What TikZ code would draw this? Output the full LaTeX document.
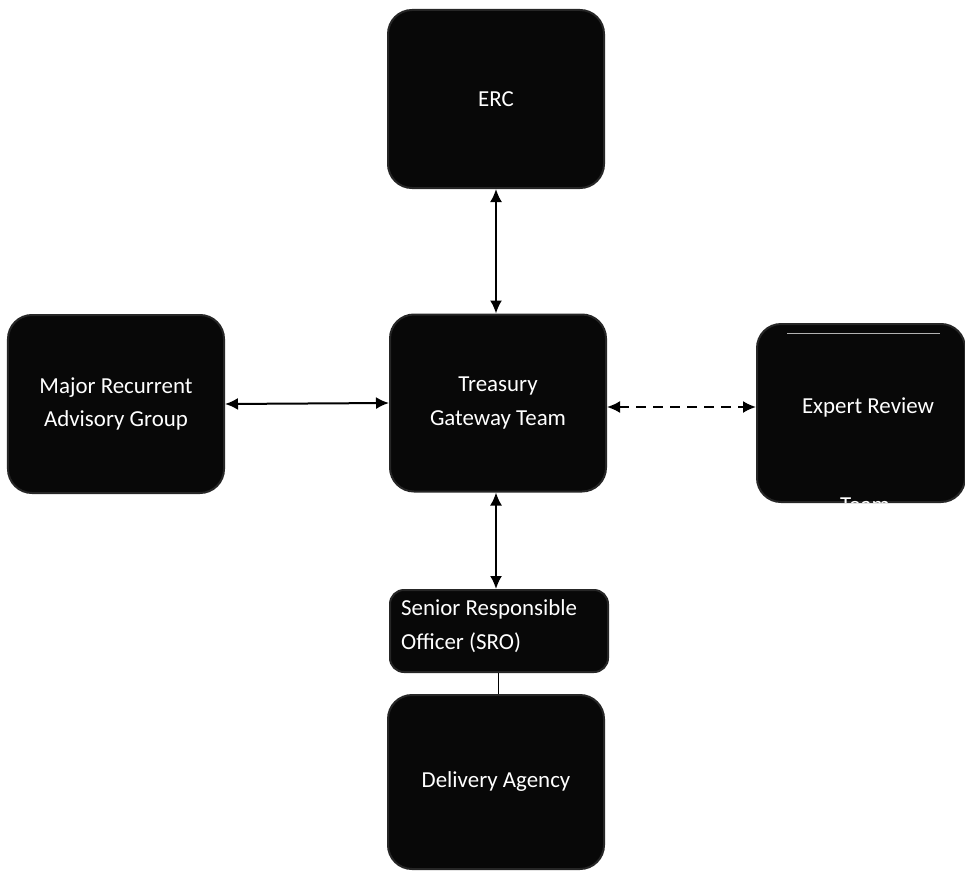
\documentclass[tikz,border=0pt]{standalone}
\usepackage{fontspec}
\setmainfont{Carlito}
\usetikzlibrary{arrows.meta}
\begin{document}
\begin{tikzpicture}[x=1bp,y=-1bp,
  box/.style={draw=black!85,line width=2bp,fill=black!97,rounded corners=24bp,text=white,font=\fontsize{23}{34}\selectfont,align=center,inner sep=0pt},
  link/.style={line width=2bp,{Latex[length=13bp,width=12bp]}-{Latex[length=13bp,width=12bp]}},
  dlink/.style={link,dash pattern=on 10bp off 7bp}]
\useasboundingbox (0,0) rectangle (965,875);
\node[box,minimum width=216bp,minimum height=178bp] (erc) at (496,99) {ERC};
\node[box,minimum width=216bp,minimum height=177bp] (tgt) at (498,403) {Treasury\\Gateway Team};
\node[box,minimum width=216bp,minimum height=178bp] (marg) at (116,404) {Major Recurrent\\Advisory Group};
\node[box,minimum width=208bp,minimum height=178bp] (exp) at (861,413) {};
\node[text=white,font=\fontsize{23}{34}\selectfont,inner sep=0pt] (exptxt) at (868,407) {Expert Review};
\draw[gray!60,line width=1bp] (787,333) -- (940,333);
\begin{scope}
\clip (740,300) rectangle (965,502);
\node[text=white,font=\fontsize{23}{34}\selectfont,inner sep=0pt] (team) at (865,505) {Team};
\end{scope}
\node[box,minimum width=218bp,minimum height=82bp,rounded corners=14bp] (sro) at (499,631) {};
\node[text=white,font=\fontsize{23}{34}\selectfont,align=left,inner sep=0pt,anchor=west] (srotxt) at (401,626) {Senior Responsible\\Officer (SRO)};
\node[box,minimum width=216bp,minimum height=174bp] (del) at (496,782) {Delivery Agency};
\draw[link] (erc.south) -- (erc.south |- tgt.north);
\draw[link] (marg.east) -- (tgt.west);
\draw[dlink] (tgt.east |- 0,407) -- (exp.west |- 0,407);
\draw[link] (tgt.south -| 496,0) -- (sro.north -| 496,0);
\draw[line width=1bp] (sro.south -| 498,0) -- (del.north -| 498,0);
\end{tikzpicture}
\end{document}
